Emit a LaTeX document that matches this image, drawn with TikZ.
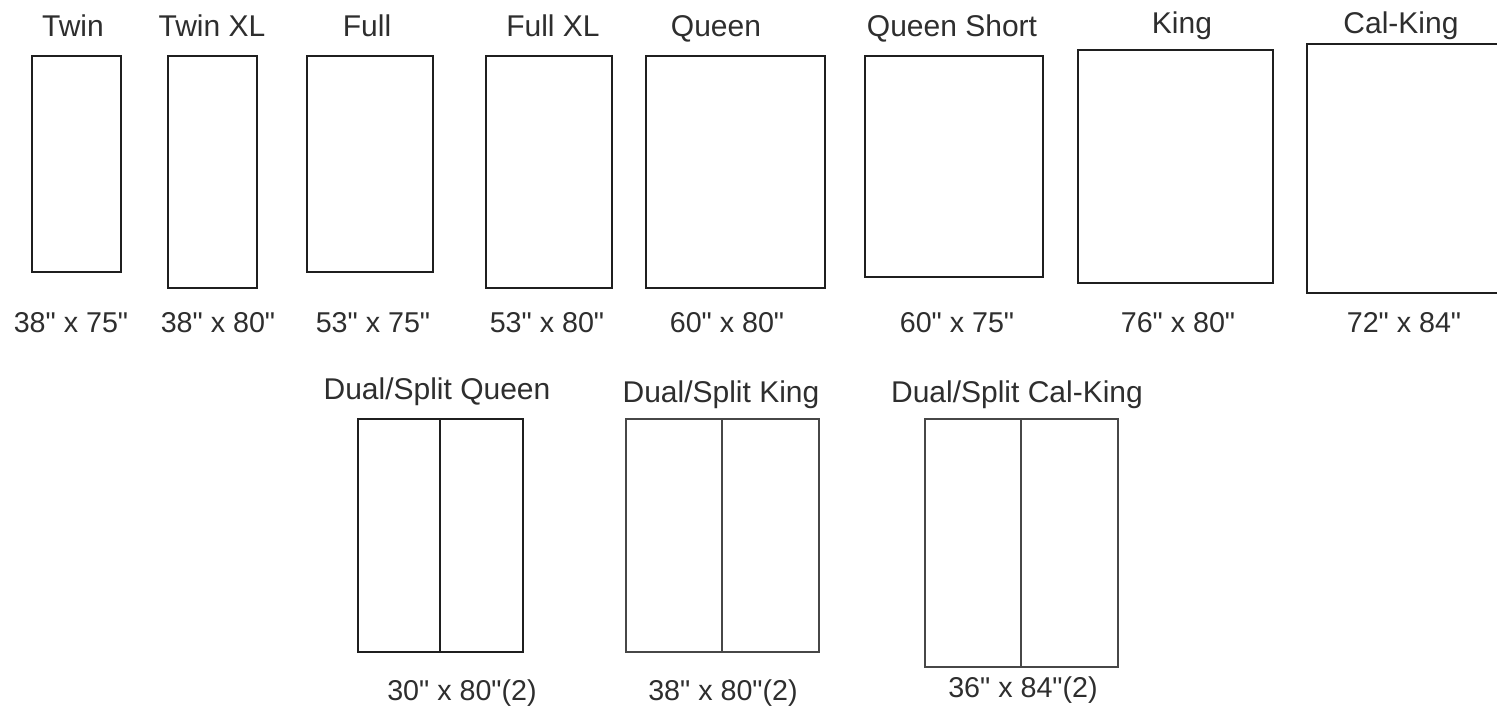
\documentclass[tikz,border=0pt]{standalone}
\usepackage{fontspec}
\newfontfamily\bedfont{Liberation Sans}
\newcommand{\inchmark}{"}
\begin{document}
\begin{tikzpicture}[x=0.75pt,y=-0.75pt,
  bedline/.style={draw=black!88, line width=1.7pt},
  splitline/.style={draw=black!72, line width=1.9pt},
  lbl/.style={anchor=base, inner sep=0pt, text=black!82, font=\bedfont\fontsize{22.5pt}{26pt}\selectfont},
  dim/.style={anchor=base, inner sep=0pt, text=black!82, font=\bedfont\fontsize{21.5pt}{26pt}\selectfont}]
\fill[white] (0,0) rectangle (1497,708);
\useasboundingbox (0,0) rectangle (1497,708);
% top row beds
\draw[bedline] (32,56) rectangle (121,272);
\draw[bedline] (168,56) rectangle (257,288);
\draw[bedline] (307,56) rectangle (433,272);
\draw[bedline] (486,56) rectangle (612,288);
\draw[bedline] (646,56) rectangle (825,288);
\draw[bedline] (865,56) rectangle (1043,277);
\draw[bedline] (1078,50) rectangle (1273,283);
\draw[bedline] (1307,44) rectangle (1499,293);
% top names
\node[lbl] (ntwin) at (73,36) {Twin};
\node[lbl] (ntwinxl) at (212,36) {Twin XL};
\node[lbl] (nfull) at (367,36) {Full};
\node[lbl] (nfullxl) at (553,36) {Full XL};
\node[lbl] (nqueen) at (716,36) {Queen};
\node[lbl] (nqshort) at (952,36) {Queen Short};
\node[lbl] (nking) at (1182,33) {King};
\node[lbl] (ncal) at (1401,33) {Cal-King};
% top dims
\node[dim] (dtwin) at (71,332) {38\inchmark{} x 75\inchmark};
\node[dim] (dtwinxl) at (218,332) {38\inchmark{} x 80\inchmark};
\node[dim] (dfull) at (373,332) {53\inchmark{} x 75\inchmark};
\node[dim] (dfullxl) at (547,332) {53\inchmark{} x 80\inchmark};
\node[dim] (dqueen) at (727,332) {60\inchmark{} x 80\inchmark};
\node[dim] (dqshort) at (957,332) {60\inchmark{} x 75\inchmark};
\node[dim] (dking) at (1178,332) {76\inchmark{} x 80\inchmark};
\node[dim] (dcal) at (1404,332) {72\inchmark{} x 84\inchmark};
% split beds
\draw[bedline] (358,419) rectangle (523,652);
\draw[bedline] (440,419) -- (440,652);
\draw[splitline] (626,419) rectangle (819,652);
\draw[splitline] (722,419) -- (722,652);
\draw[splitline] (925,419) rectangle (1118,667);
\draw[splitline] (1021,419) -- (1021,667);
% split names
\node[lbl] (nsq) at (437,399) {Dual/Split Queen};
\node[lbl] (nsk) at (721,402) {Dual/Split King};
\node[lbl] (nsc) at (1017,402) {Dual/Split Cal-King};
% split dims
\node[dim] (dsq) at (462,700) {30\inchmark{} x 80\inchmark(2)};
\node[dim] (dsk) at (723,700) {38\inchmark{} x 80\inchmark(2)};
\node[dim] (dsc) at (1023,697) {36\inchmark{} x 84\inchmark(2)};
\end{tikzpicture}
\end{document}
